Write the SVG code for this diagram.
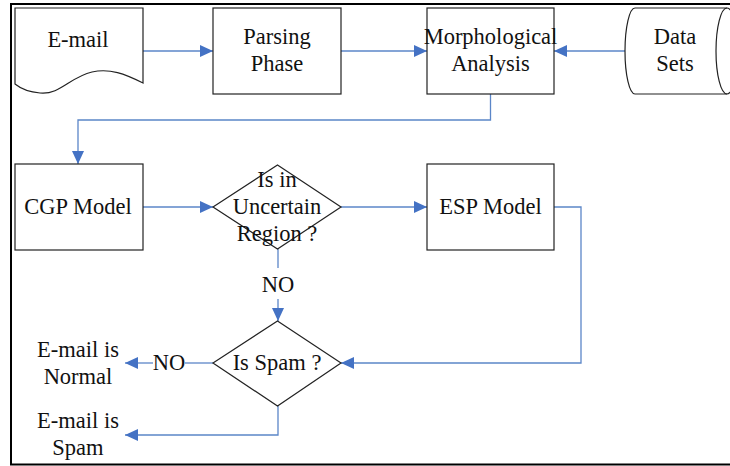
<svg xmlns="http://www.w3.org/2000/svg" width="730" height="466" viewBox="0 0 730 466" font-family="'Liberation Serif', 'Times New Roman', 'DejaVu Serif', serif">
<defs>
<marker id="arr" markerWidth="13" markerHeight="12" refX="13" refY="6" orient="auto" markerUnits="userSpaceOnUse">
<path d="M0,0 L13,6 L0,12 Z" fill="#4472C4"/>
</marker>
<style>
.shape{fill:#fff;stroke:#222;stroke-width:1.2}
.conn{fill:none;stroke:#5B86C8;stroke-width:1.3}
.t{font-family:'Liberation Serif','Times New Roman','DejaVu Serif',serif;font-size:22.5px;fill:#111;text-anchor:middle}
</style>
</defs>
<rect width="730" height="466" fill="#fff"/>
<path d="M740,4 H11 V464.5 H740" fill="none" stroke="#000" stroke-width="2"/>

<g id="connectors">
<path class="conn" d="M143,51 H213" marker-end="url(#arr)"/>
<path class="conn" d="M341,51 H427" marker-end="url(#arr)"/>
<path class="conn" d="M625,51 H554" marker-end="url(#arr)"/>
<path class="conn" d="M490.5,94 V120 H78 V164" marker-end="url(#arr)"/>
<path class="conn" d="M143,207 H213" marker-end="url(#arr)"/>
<path class="conn" d="M341,207 H427" marker-end="url(#arr)"/>
<path class="conn" d="M554,207 H581 V363 H341" marker-end="url(#arr)"/>
<path class="conn" d="M278,249 V268"/>
<path class="conn" d="M278,299 V321" marker-end="url(#arr)"/>
<path class="conn" d="M213,363 H185"/>
<path class="conn" d="M153,363 H125" marker-end="url(#arr)"/>
<path class="conn" d="M278,406 V435 H125" marker-end="url(#arr)"/>
<text class="t" x="278" y="292">NO</text>
<text class="t" x="169" y="370">NO</text>
</g>

<g id="email">
<path class="shape" d="M15,8 H143 V83 C125,74 110,68 92,72 C70,77 60,95 40,93 C28,92 20,88 15,84 Z"/>
<text class="t" x="78" y="47">E-mail</text>
</g>
<g id="parsing">
<rect class="shape" x="213" y="8" width="128" height="86"/>
<text class="t" x="277" y="44">Parsing</text>
<text class="t" x="277" y="71">Phase</text>
</g>
<g id="morph">
<rect class="shape" x="427" y="8" width="127" height="86"/>
<text class="t" x="490.5" y="44">Morphological</text>
<text class="t" x="490.5" y="71">Analysis</text>
</g>
<g id="datasets">
<path class="shape" d="M635,8 H727 A11,43 0 0 1 727,94 H635 A10,43 0 0 1 635,8 Z"/>
<path d="M727,8 A11,43 0 0 0 727,94" fill="none" stroke="#222" stroke-width="1.2"/>
<text class="t" x="675" y="44">Data</text>
<text class="t" x="675" y="71">Sets</text>
</g>
<g id="cgp">
<rect class="shape" x="15" y="164" width="128" height="86"/>
<text class="t" x="78" y="214">CGP Model</text>
</g>
<g id="uncertain">
<path class="shape" d="M277.5,165 L341,207 L277.5,249 L213,207 Z"/>
<text class="t" x="277" y="187">Is in</text>
<text class="t" x="277" y="214">Uncertain</text>
<text class="t" x="277" y="241">Region ?</text>
</g>
<g id="esp">
<rect class="shape" x="427" y="164" width="127" height="86"/>
<text class="t" x="490.5" y="214">ESP Model</text>
</g>
<g id="isspam">
<path class="shape" d="M277.5,321 L341,363 L277.5,406 L213,363 Z"/>
<text class="t" x="277" y="370">Is Spam ?</text>
</g>
<g id="normal">
<text class="t" x="78" y="357">E-mail is</text>
<text class="t" x="78" y="384">Normal</text>
</g>
<g id="spam">
<text class="t" x="78" y="428">E-mail is</text>
<text class="t" x="78" y="455">Spam</text>
</g>
</svg>
